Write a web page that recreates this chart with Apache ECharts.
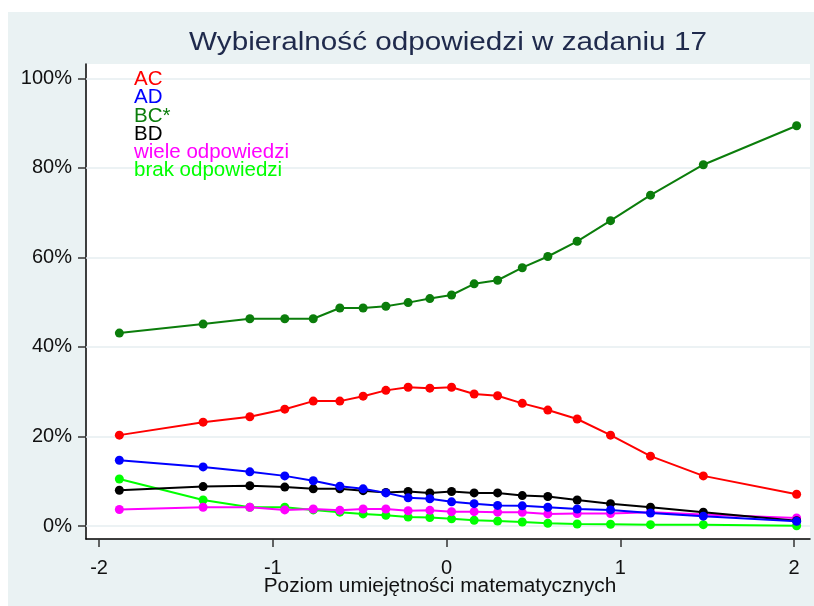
<!DOCTYPE html>
<html>
<head>
<meta charset="utf-8">
<script src="https://cdn.jsdelivr.net/npm/echarts@6/dist/echarts.min.js"></script>
<style>
html,body{margin:0;padding:0;background:#ffffff;}
#chart{width:814px;height:606px;}
</style>
</head>
<body>
<div id="chart"></div>
<script>
var xs = [-1.883, -1.401, -1.132, -0.931, -0.767, -0.614, -0.480, -0.349, -0.221, -0.096,
          0.029, 0.159, 0.294, 0.436, 0.583, 0.752, 0.944, 1.174, 1.478, 2.015];
var seriesNames = ['AC', 'AD', 'BC*', 'BD', 'wiele odpowiedzi', 'brak odpowiedzi'];
var AC = [20.3, 23.2, 24.4, 26.1, 27.9, 27.9, 29.0, 30.3, 31.0, 30.8,
          31.0, 29.5, 29.1, 27.4, 25.9, 23.9, 20.3, 15.6, 11.2, 7.1];
var AD = [14.7, 13.2, 12.1, 11.2, 10.1, 8.9, 8.3, 7.4, 6.3, 6.1,
          5.4, 5.0, 4.6, 4.5, 4.2, 3.8, 3.6, 2.9, 2.2, 1.05];
var BC = [43.1, 45.1, 46.3, 46.3, 46.3, 48.7, 48.7, 49.1, 49.9, 50.8,
          51.6, 54.1, 54.9, 57.7, 60.2, 63.6, 68.2, 73.9, 80.7, 89.4];
var BD = [8.0, 8.8, 9.0, 8.7, 8.3, 8.3, 7.9, 7.5, 7.7, 7.4,
          7.7, 7.4, 7.4, 6.8, 6.6, 5.8, 5.0, 4.2, 3.1, 1.2];
var wiele = [3.7, 4.2, 4.2, 3.6, 3.8, 3.5, 3.8, 3.8, 3.4, 3.5,
             3.2, 3.2, 3.1, 3.06, 2.7, 2.8, 2.8, 3.1, 2.6, 1.8];
var brak = [10.5, 5.8, 4.2, 4.2, 3.6, 3.1, 2.7, 2.4, 2.0, 1.9,
            1.6, 1.3, 1.1, 0.9, 0.6, 0.45, 0.4, 0.3, 0.3, 0.07];
var xTicks = [-2, -1, 0, 1, 2];
var yTicks = [0, 20, 40, 60, 80, 100];
var titleText = 'Wybieralność odpowiedzi w zadaniu 17';
var xAxisTitle = 'Poziom umiejętności matematycznych';
var colors = ['#ff0000', '#0000ff', '#0b7d0b', '#000000', '#ff00ff', '#00ff00'];
var values = [AC, AD, BC, BD, wiele, brak];
var FONT = '"Liberation Sans", Arial, sans-serif';

function pairs(v) { return xs.map(function (x, i) { return [x, v[i]]; }); }

var chart = echarts.init(document.getElementById('chart'), null, {renderer: 'canvas'});
var series = seriesNames.map(function (n, k) {
  var s = {
    name: n, type: 'line', data: pairs(values[k]),
    symbol: 'circle', symbolSize: 9, showSymbol: true,
    lineStyle: {width: 2, color: colors[k]},
    itemStyle: {color: colors[k]},
    z: 10 - k,
    animation: false
  };
  if (k === 0) {
    s.markLine = {
      silent: true, symbol: 'none', label: {show: false}, animation: false, z: 1,
      lineStyle: {color: '#e6eef1', width: 1.5, type: 'solid'},
      data: yTicks.map(function (t) { return {yAxis: t}; })
    };
  }
  return s;
});
series = series.slice().reverse();

var legendTexts = seriesNames.map(function (n, k) {
  return {type: 'text', x: 134, y: 79.5 + k * 18.25, z: 100,
    style: {text: n, fill: colors[k], font: '20.5px ' + FONT, textAlign: 'left', textVerticalAlign: 'middle'}};
});

chart.setOption({
  animation: false,
  backgroundColor: 'transparent',
  graphic: [
    {type: 'rect', z: -10, shape: {x: 8, y: 12, width: 806, height: 594}, style: {fill: '#eaf2f3'}},
    {type: 'text', x: 448, y: 42.5, scaleX: 1.12, z: 10,
      style: {text: titleText, fill: '#1f2a4c', font: '26.5px ' + FONT, textAlign: 'center', textVerticalAlign: 'middle'}},
    {type: 'text', x: 440, y: 586.3, scaleX: 1.04, z: 10,
      style: {text: xAxisTitle, fill: '#111111', font: '20px ' + FONT, textAlign: 'center', textVerticalAlign: 'middle'}}
  ].concat(legendTexts),
  grid: {left: 86, right: 4, top: 64, bottom: 67, show: true, backgroundColor: '#ffffff', borderWidth: 0},
  xAxis: {
    type: 'value', min: -2.075, max: 2.092,
    axisLine: {show: true, onZero: false, lineStyle: {color: '#000000', width: 1.5}},
    axisTick: {show: true, customValues: xTicks, length: 8, lineStyle: {color: '#333333', width: 1.5}},
    axisLabel: {customValues: xTicks, margin: 19, color: '#111111', fontSize: 20, fontFamily: FONT},
    splitLine: {show: false}
  },
  yAxis: {
    type: 'value', min: -2.9, max: 103.2,
    axisLine: {show: true, onZero: false, lineStyle: {color: '#000000', width: 1.5}},
    axisTick: {show: true, customValues: yTicks, length: 8, lineStyle: {color: '#333333', width: 1.5}},
    axisLabel: {customValues: yTicks, margin: 14, color: '#111111', fontSize: 20, fontFamily: FONT,
      formatter: function (v) { return v + '%'; }},
    splitLine: {show: false}
  },
  series: series
});
</script>
</body>
</html>
